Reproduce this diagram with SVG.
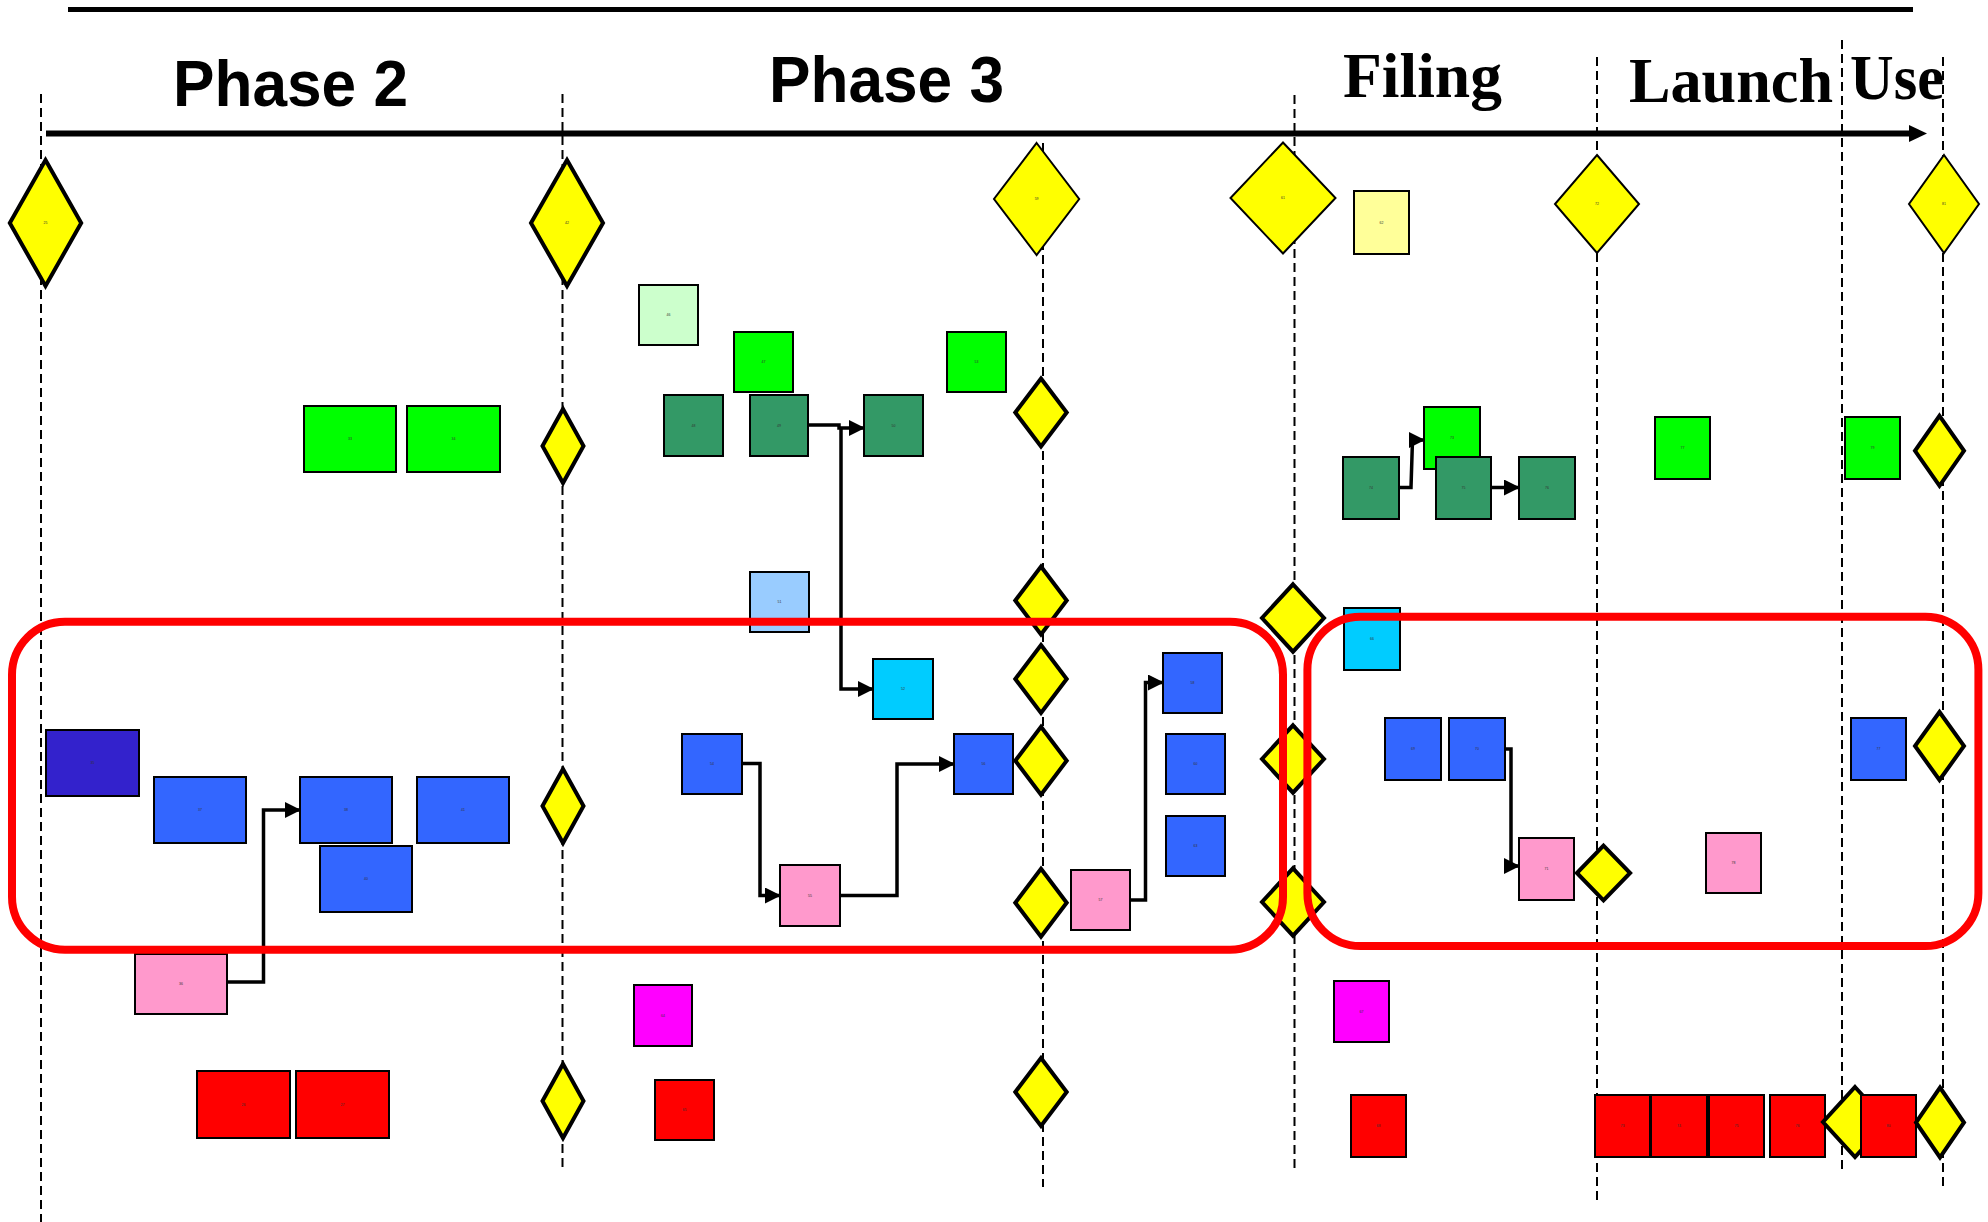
<svg xmlns="http://www.w3.org/2000/svg" width="1988" height="1222" viewBox="0 0 1988 1222">
  <style>
    .box { stroke: #000; stroke-width: 2; }
    .dia { fill: #FFFF00; stroke: #000; stroke-width: 4; stroke-linejoin: miter; }
    .dia.thin { stroke-width: 2; }
    .lgreen { fill: #CCFFCC; }
    .green { fill: #00FF00; }
    .dgreen { fill: #339966; }
    .lblue { fill: #99CCFF; }
    .cyan { fill: #00CCFF; }
    .blue { fill: #3366FF; }
    .dblue { fill: #3322CC; }
    .pink { fill: #FF99CC; }
    .magenta { fill: #FF00FF; }
    .red { fill: #FF0000; }
    .lyellow { fill: #FFFF99; }
    .lbl { font-family: "Liberation Sans", Arial, sans-serif; font-size: 3.5px; fill: #333; text-anchor: middle; dominant-baseline: central; }
    .guide { stroke: #000; stroke-width: 2; stroke-dasharray: 9 5; fill: none; }
    .conn { stroke: #000; stroke-width: 3.5; fill: none; stroke-linejoin: miter; }
    .frame { fill: none; stroke: #FF0000; stroke-width: 8; }
    .phase { font-family: "Liberation Sans", Arial, sans-serif; font-weight: bold; fill: #000; }
    .stage { font-family: "Liberation Serif", "Times New Roman", serif; font-weight: bold; fill: #000; }
  </style>
  <defs>
    <marker id="arrow" markerUnits="userSpaceOnUse" markerWidth="16" markerHeight="16" refX="15" refY="8" orient="auto">
      <path d="M0,0 L16,8 L0,16 Z" fill="#000"/>
    </marker>
  </defs>

  <rect width="1988" height="1222" fill="#fff"/>

  <!-- header: rule, phase titles, time axis -->
  <g id="header">
    <line x1="68" y1="9.5" x2="1913" y2="9.5" stroke="#000" stroke-width="5"/>
    <text class="phase" x="173" y="106" font-size="64" textLength="235" lengthAdjust="spacingAndGlyphs">Phase 2</text>
    <text class="phase" x="769" y="102" font-size="64" textLength="235" lengthAdjust="spacingAndGlyphs">Phase 3</text>
    <text class="stage" x="1343" y="97" font-size="64" textLength="159" lengthAdjust="spacingAndGlyphs">Filing</text>
    <text class="stage" x="1629" y="102" font-size="63" textLength="204" lengthAdjust="spacingAndGlyphs">Launch</text>
    <text class="stage" x="1850" y="99" font-size="63" textLength="94" lengthAdjust="spacingAndGlyphs">Use</text>
    <line x1="46" y1="133.5" x2="1911" y2="133.5" stroke="#000" stroke-width="6"/>
    <polygon points="1909,125 1927,133.5 1909,142" fill="#000"/>
  </g>

  <!-- milestone guides -->
  <g id="guides">
    <line class="guide" x1="41" y1="94" x2="41" y2="1222"/>
    <line class="guide" x1="562.5" y1="94" x2="562.5" y2="1167"/>
    <line class="guide" x1="1043" y1="143" x2="1043" y2="1187"/>
    <line class="guide" x1="1294.5" y1="95" x2="1294.5" y2="1168"/>
    <line class="guide" x1="1597" y1="57" x2="1597" y2="1200"/>
    <line class="guide" x1="1842" y1="40" x2="1842" y2="1170"/>
    <line class="guide" x1="1943" y1="57" x2="1943" y2="1186"/>
  </g>

  <!-- milestones along the top -->
  <g id="m25"><polygon class="dia" points="45.5,160 81.2,223 45.5,286 9.8,223"/><text class="lbl" x="45.5" y="223">25</text></g>
  <g id="m42"><polygon class="dia" points="567,160 603,223 567,286 531,223"/><text class="lbl" x="567" y="223">42</text></g>
  <g id="m59"><polygon class="dia thin" points="1036.6,143 1079.2,199 1036.6,255 994,199"/><text class="lbl" x="1036.6" y="199">59</text></g>
  <g id="m61"><polygon class="dia thin" points="1283,142.5 1335.5,198 1283,253.5 1230.5,198"/><text class="lbl" x="1283" y="198">61</text></g>
  <g id="m72"><polygon class="dia thin" points="1597,155 1639,204 1597,253 1555,204"/><text class="lbl" x="1597" y="204">72</text></g>
  <g id="m81"><polygon class="dia thin" points="1944,155 1979,204 1944,253 1909,204"/><text class="lbl" x="1944" y="204">81</text></g>

  <!-- Phase 2 tasks -->
  <g id="t33"><rect class="box green" x="304" y="406" width="92" height="66"/><text class="lbl" x="350" y="439">33</text></g>
  <g id="t34"><rect class="box green" x="407" y="406" width="93" height="66"/><text class="lbl" x="453.5" y="439">34</text></g>
  <g id="t35"><rect class="box dblue" x="46" y="730" width="93" height="66"/><text class="lbl" x="92.5" y="763">35</text></g>
  <g id="t37"><rect class="box blue" x="154" y="777" width="92" height="66"/><text class="lbl" x="200" y="810">37</text></g>
  <g id="t38"><rect class="box blue" x="300" y="777" width="92" height="66"/><text class="lbl" x="346" y="810">38</text></g>
  <g id="t41"><rect class="box blue" x="417" y="777" width="92" height="66"/><text class="lbl" x="463" y="810">41</text></g>
  <g id="t40"><rect class="box blue" x="320" y="846" width="92" height="66"/><text class="lbl" x="366" y="879">40</text></g>
  <g id="t36"><rect class="box pink" x="135" y="954" width="92" height="60"/><text class="lbl" x="181" y="984">36</text></g>
  <g id="t26"><rect class="box red" x="197" y="1071" width="93" height="67"/><text class="lbl" x="243.5" y="1104.5">26</text></g>
  <g id="t27"><rect class="box red" x="296" y="1071" width="93" height="67"/><text class="lbl" x="342.5" y="1104.5">27</text></g>
  <g id="m43"><polygon class="dia" points="563,409 583.5,446 563,483 542.5,446"/></g>
  <g id="m44"><polygon class="dia" points="563,769 583.5,806 563,843 542.5,806"/></g>
  <g id="m45"><polygon class="dia" points="563,1064 583.5,1101 563,1138 542.5,1101"/></g>

  <!-- Phase 3 tasks -->
  <g id="t46"><rect class="box lgreen" x="639" y="285" width="59" height="60"/><text class="lbl" x="668.5" y="315">46</text></g>
  <g id="t47"><rect class="box green" x="734" y="332" width="59" height="60"/><text class="lbl" x="763.5" y="362">47</text></g>
  <g id="t53"><rect class="box green" x="947" y="332" width="59" height="60"/><text class="lbl" x="976.5" y="362">53</text></g>
  <g id="t48"><rect class="box dgreen" x="664" y="395" width="59" height="61"/><text class="lbl" x="693.5" y="425.5">48</text></g>
  <g id="t49"><rect class="box dgreen" x="750" y="395" width="58" height="61"/><text class="lbl" x="779" y="425.5">49</text></g>
  <g id="t50"><rect class="box dgreen" x="864" y="395" width="59" height="61"/><text class="lbl" x="893.5" y="425.5">50</text></g>
  <g id="t51"><rect class="box lblue" x="750" y="572" width="59" height="60"/><text class="lbl" x="779.5" y="602">51</text></g>
  <g id="t52"><rect class="box cyan" x="873" y="659" width="60" height="60"/><text class="lbl" x="903" y="689">52</text></g>
  <g id="t54"><rect class="box blue" x="682" y="734" width="60" height="60"/><text class="lbl" x="712" y="764">54</text></g>
  <g id="t56"><rect class="box blue" x="954" y="734" width="59" height="60"/><text class="lbl" x="983.5" y="764">56</text></g>
  <g id="t55"><rect class="box pink" x="780" y="865" width="60" height="61"/><text class="lbl" x="810" y="895.5">55</text></g>
  <g id="t57"><rect class="box pink" x="1071" y="870" width="59" height="60"/><text class="lbl" x="1100.5" y="900">57</text></g>
  <g id="t58"><rect class="box blue" x="1163" y="653" width="59" height="60"/><text class="lbl" x="1192.5" y="683">58</text></g>
  <g id="t60"><rect class="box blue" x="1166" y="734" width="59" height="60"/><text class="lbl" x="1195.5" y="764">60</text></g>
  <g id="t63"><rect class="box blue" x="1166" y="816" width="59" height="60"/><text class="lbl" x="1195.5" y="846">63</text></g>
  <g id="t64"><rect class="box magenta" x="634" y="985" width="58" height="61"/><text class="lbl" x="663" y="1015.5">64</text></g>
  <g id="t65"><rect class="box red" x="655" y="1080" width="59" height="60"/><text class="lbl" x="684.5" y="1110">65</text></g>
  <g id="m66"><polygon class="dia" points="1041,378.5 1066.7,412.5 1041,446.5 1015.3,412.5"/></g>
  <g id="m67"><polygon class="dia" points="1041,566.5 1066.7,600.5 1041,634.5 1015.3,600.5"/></g>
  <g id="m68"><polygon class="dia" points="1041,645 1066.7,679 1041,713 1015.3,679"/></g>
  <g id="m69"><polygon class="dia" points="1041,726.7 1066.7,760.7 1041,794.7 1015.3,760.7"/></g>
  <g id="m70"><polygon class="dia" points="1041,868.8 1066.7,902.8 1041,936.8 1015.3,902.8"/></g>
  <g id="m71"><polygon class="dia" points="1041,1058 1066.7,1092 1041,1126 1015.3,1092"/></g>

  <!-- Filing tasks -->
  <g id="t62"><rect class="box lyellow" x="1354" y="191" width="55" height="63"/><text class="lbl" x="1381.5" y="222.5">62</text></g>
  <g id="t73"><rect class="box green" x="1424" y="407" width="56" height="62"/><text class="lbl" x="1452" y="438">73</text></g>
  <g id="t74"><rect class="box dgreen" x="1343" y="457" width="56" height="62"/><text class="lbl" x="1371" y="488">74</text></g>
  <g id="t75"><rect class="box dgreen" x="1436" y="457" width="55" height="62"/><text class="lbl" x="1463.5" y="488">75</text></g>
  <g id="t76"><rect class="box dgreen" x="1519" y="457" width="56" height="62"/><text class="lbl" x="1547" y="488">76</text></g>
  <g id="t66"><rect class="box cyan" x="1344" y="608" width="56" height="62"/><text class="lbl" x="1372" y="639">66</text></g>
  <g id="t69"><rect class="box blue" x="1385" y="718" width="56" height="62"/><text class="lbl" x="1413" y="749">69</text></g>
  <g id="t70"><rect class="box blue" x="1449" y="718" width="56" height="62"/><text class="lbl" x="1477" y="749">70</text></g>
  <g id="t71"><rect class="box pink" x="1519" y="838" width="55" height="62"/><text class="lbl" x="1546.5" y="869">71</text></g>
  <g id="t67"><rect class="box magenta" x="1334" y="981" width="55" height="61"/><text class="lbl" x="1361.5" y="1011.5">67</text></g>
  <g id="t68"><rect class="box red" x="1351" y="1095" width="55" height="62"/><text class="lbl" x="1378.5" y="1126">68</text></g>
  <g id="m82"><polygon class="dia" points="1293,584.3 1324,618 1293,651.7 1262,618"/></g>
  <g id="m83"><polygon class="dia" points="1293,725.3 1324,759 1293,792.7 1262,759"/></g>
  <g id="m84"><polygon class="dia" points="1293,868.3 1324,902 1293,935.7 1262,902"/></g>

  <!-- Launch tasks -->
  <g id="t77"><rect class="box green" x="1655" y="417" width="55" height="62"/><text class="lbl" x="1682.5" y="448">77</text></g>
  <g id="t78"><rect class="box pink" x="1706" y="833" width="55" height="60"/><text class="lbl" x="1733.5" y="863">78</text></g>
  <g id="m85"><polygon class="dia" points="1603.5,845.7 1630.1,873 1603.5,900.3 1576.9,873"/></g>
  <g id="t86"><rect class="box red" x="1595" y="1095" width="55" height="62"/><text class="lbl" x="1622.5" y="1126">73</text></g>
  <g id="t87"><rect class="box red" x="1651" y="1095" width="56" height="62"/><text class="lbl" x="1679" y="1126">74</text></g>
  <g id="t88"><rect class="box red" x="1709" y="1095" width="55" height="62"/><text class="lbl" x="1736.5" y="1126">75</text></g>
  <g id="t89"><rect class="box red" x="1770" y="1095" width="55" height="62"/><text class="lbl" x="1797.5" y="1126">76</text></g>
  <g id="m90"><polygon class="dia" points="1855,1087 1887,1122 1855,1157 1823,1122"/></g>

  <!-- Use tasks -->
  <g id="t91"><rect class="box green" x="1845" y="417" width="55" height="62"/><text class="lbl" x="1872.5" y="448">79</text></g>
  <g id="m92"><polygon class="dia" points="1939.5,415.8 1964,450.8 1939.5,485.8 1915,450.8"/></g>
  <g id="t93"><rect class="box blue" x="1851" y="718" width="55" height="62"/><text class="lbl" x="1878.5" y="749">77</text></g>
  <g id="m94"><polygon class="dia" points="1939.5,712 1964,746 1939.5,780 1915,746"/></g>
  <g id="t95"><rect class="box red" x="1861" y="1095" width="55" height="62"/><text class="lbl" x="1888.5" y="1126">80</text></g>
  <g id="m96"><polygon class="dia" points="1940,1087.5 1964,1122.5 1940,1157.5 1916,1122.5"/></g>

  <!-- dependencies -->
  <g id="connectors">
    <path class="conn" d="M227,982 H263.5 V810 H300" marker-end="url(#arrow)"/>
    <path class="conn" d="M808,425 H839 V428 H864" marker-end="url(#arrow)"/>
    <path class="conn" d="M841,428 V689 H873" marker-end="url(#arrow)"/>
    <path class="conn" d="M742,763.5 H760 V895.5 H780" marker-end="url(#arrow)"/>
    <path class="conn" d="M840,895.5 H897 V764 H954" marker-end="url(#arrow)"/>
    <path class="conn" d="M1130,900 H1145.5 V682.5 H1163" marker-end="url(#arrow)"/>
    <path class="conn" d="M1399,487.5 H1411 L1412.5,440 H1424" marker-end="url(#arrow)"/>
    <path class="conn" d="M1491,487.5 H1519" marker-end="url(#arrow)"/>
    <path class="conn" d="M1505,749 H1511 V866 H1519" marker-end="url(#arrow)"/>
  </g>

  <!-- highlighted blocks -->
  <g id="frames">
    <rect class="frame" x="12" y="621.7" width="1271" height="328" rx="53" ry="53"/>
    <rect class="frame" x="1307.4" y="616.7" width="671" height="329.3" rx="53" ry="53"/>
  </g>
</svg>
